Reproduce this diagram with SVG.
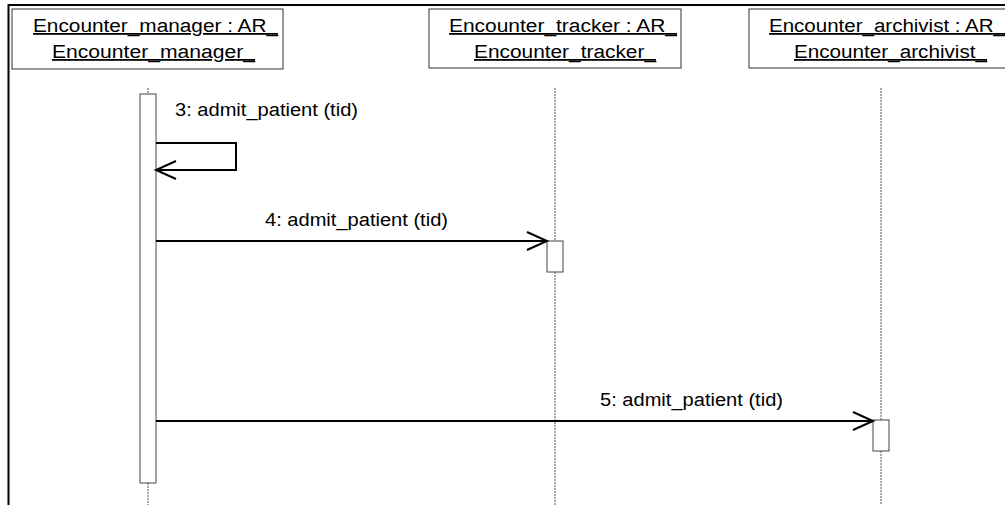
<svg xmlns="http://www.w3.org/2000/svg" width="1005" height="505" viewBox="0 0 1005 505">
<style>
.frame{stroke:#000;stroke-width:2;fill:none}
.box{fill:#fff;stroke:#333;stroke-width:1}
.name{font-family:"Liberation Sans",Arial,sans-serif;font-size:18px;fill:#000;text-decoration:underline}
.lbl{font-family:"Liberation Sans",Arial,sans-serif;font-size:18px;fill:#000}
.life{stroke:#555;stroke-width:1;stroke-dasharray:2,1;fill:none}
.act{fill:#fff;stroke:#444;stroke-width:1}
.msg{stroke:#000;stroke-width:2;fill:none}
</style>
<defs>
<marker id="open" markerUnits="userSpaceOnUse" markerWidth="24" markerHeight="24" viewBox="-22 -11 24 22" refX="0" refY="0" orient="auto" overflow="visible">
<path d="M-20,-9 L0,0 L-20,9" fill="none" stroke="#000" stroke-width="2"/>
</marker>
</defs>
<rect width="1005" height="505" fill="#fff"/>
<path class="frame" d="M8.5,505 V5 H1005"/>
<g id="lifelines">
<line class="life" x1="148" y1="88" x2="148" y2="94"/>
<line class="life" x1="148" y1="483" x2="148" y2="505"/>
<line class="life" x1="555" y1="88" x2="555" y2="241"/>
<line class="life" x1="555" y1="272" x2="555" y2="505"/>
<line class="life" x1="881" y1="88" x2="881" y2="420"/>
<line class="life" x1="881" y1="451" x2="881" y2="505"/>
</g>
<g id="manager">
<rect class="box" x="12" y="9" width="271" height="60"/>
<text class="name" x="33" y="32" textLength="245" lengthAdjust="spacingAndGlyphs">Encounter_manager : AR_</text>
<text class="name" x="52" y="58" textLength="203" lengthAdjust="spacingAndGlyphs">Encounter_manager_</text>
<rect class="act" x="140" y="94" width="16" height="389"/>
</g>
<g id="tracker">
<rect class="box" x="429" y="9" width="252" height="59"/>
<text class="name" x="449" y="32" textLength="228" lengthAdjust="spacingAndGlyphs">Encounter_tracker : AR_</text>
<text class="name" x="474" y="58" textLength="182" lengthAdjust="spacingAndGlyphs">Encounter_tracker_</text>
<rect class="act" x="547" y="241" width="16" height="31"/>
</g>
<g id="archivist">
<rect class="box" x="749" y="9" width="270" height="59"/>
<text class="name" x="769" y="32" textLength="236" lengthAdjust="spacingAndGlyphs">Encounter_archivist : AR_</text>
<text class="name" x="794" y="58" textLength="193" lengthAdjust="spacingAndGlyphs">Encounter_archivist_</text>
<rect class="act" x="873" y="420" width="16" height="31"/>
</g>
<g id="connectors">
<polyline class="msg" points="156,143 236,143 236,170 156,170" marker-end="url(#open)"/>
<text class="lbl" x="175" y="116" textLength="183" lengthAdjust="spacingAndGlyphs">3: admit_patient (tid)</text>
<line class="msg" x1="156" y1="241" x2="547" y2="241" marker-end="url(#open)"/>
<text class="lbl" x="265" y="226" textLength="183" lengthAdjust="spacingAndGlyphs">4: admit_patient (tid)</text>
<line class="msg" x1="156" y1="421" x2="873" y2="421" marker-end="url(#open)"/>
<text class="lbl" x="600" y="406" textLength="183" lengthAdjust="spacingAndGlyphs">5: admit_patient (tid)</text>
</g>
</svg>
